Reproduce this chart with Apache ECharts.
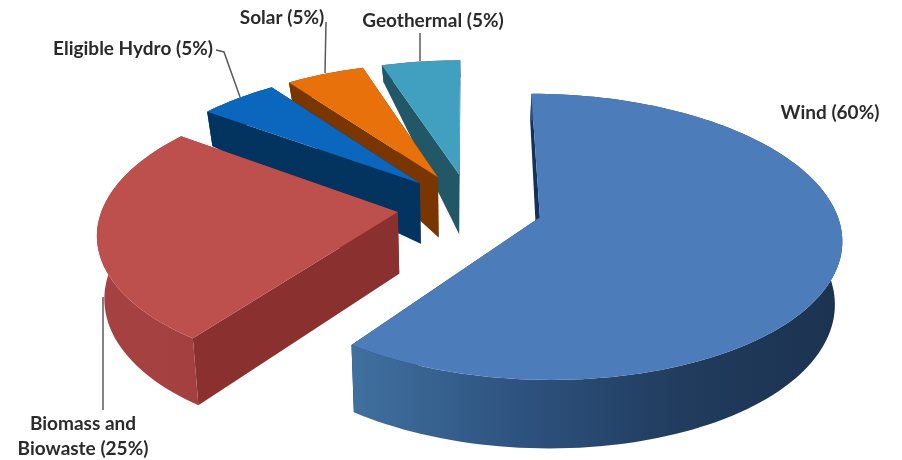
<!DOCTYPE html>
<html>
<head>
<meta charset="utf-8">
<style>html,body{margin:0;padding:0;background:#fff}#chart{width:902px;height:460px}</style>
<script src="https://cdn.jsdelivr.net/npm/echarts@6/dist/echarts.min.js"></script>
</head>
<body>
<div id="chart"></div>
<script>
// Renewable energy mix
const categories = ['Wind', 'Biomass and Biowaste', 'Eligible Hydro', 'Solar', 'Geothermal'];
const shares = [60, 25, 5, 5, 5];

// Slice colours: top face, cut wall, and the outer rim's left-to-right shading
const topColors = ['#4c7dba', '#bd4f4d', '#0a67bd', '#e8710b', '#41a0c0'];
const wallColors = ['#12325a', '#8a3130', '#03335f', '#7a3600', '#215766'];
const rimStops = [
  ['#40709f', '#2e5380', '#213c5e', '#1c3250'],
  ['#a54140', '#a54140', '#a54140', '#a33f3e'],
  ['#03335f', '#03335f', '#03335f', '#03335f'],
  ['#7a3600', '#7a3600', '#7a3600', '#7a3600'],
  ['#215766', '#215766', '#215766', '#215766']
];

// Leader-line labels, in the chart's pixel space
const labelLayout = [
  { lines: ['Wind (60%)'], x: 830, y: 113, leader: null },
  { lines: ['Biomass and', 'Biowaste (25%)'], x: 83, y: 424, leader: [[103, 297], [103, 410]] },
  { lines: ['Eligible Hydro (5%)'], x: 133, y: 49, leader: [[216, 50], [224, 52], [240, 97]] },
  { lines: ['Solar (5%)'], x: 282, y: 18, leader: [[326, 22], [325, 73]] },
  { lines: ['Geothermal (5%)'], x: 433, y: 21, leader: [[420, 33], [420, 61]] }
];

// Perspective camera for the tilted pie
const cam = { cx: 470, cy: 206.6, rx: 295, ry: 137.5, k: 0.136, explode: 0.2465, floor: 0.98 };

function project(X, Y) {
  const s = 1 / (1 - cam.k * Y);
  return [cam.cx + cam.rx * X * s, cam.cy + cam.ry * Y * s];
}
// The slab's apparent thickness shrinks quickly towards the far side
function depthAt(Y) {
  return Y >= -0.25 ? 60 + 8 * (Y + 0.25) / 1.25 : Math.max(17, 60 - 42 * (-0.25 - Y) / 0.85);
}
function lower(X, Y) {
  const p = project(X, Y);
  return [cam.cx + (p[0] - cam.cx) * cam.floor, p[1] + depthAt(Y)];
}

const total = shares.reduce((a, b) => a + b, 0);
const starts = shares.map((_, i) => shares.slice(0, i).reduce((a, b) => a + b, 0) / total * Math.PI * 2);

function renderSlice(params, api) {
  const i = params.dataIndex;
  const a0 = starts[i];
  const a1 = a0 + api.value(0) / total * Math.PI * 2;
  const mid = (a0 + a1) / 2;
  const ox = Math.sin(mid) * cam.explode;
  const oy = -Math.cos(mid) * cam.explode;
  const rim = [];
  const n = Math.max(4, Math.ceil((a1 - a0) / 0.03));
  for (let j = 0; j <= n; j++) {
    const a = a0 + (a1 - a0) * j / n;
    rim.push([ox + Math.sin(a), oy - Math.cos(a)]);
  }
  const apex = [ox, oy];
  const topFace = [apex].concat(rim).map(w => project(w[0], w[1]));
  const rimFace = rim.map(w => project(w[0], w[1]))
    .concat(rim.slice().reverse().map(w => lower(w[0], w[1])));
  const wall = e => [project(apex[0], apex[1]), project(e[0], e[1]), lower(e[0], e[1]), lower(apex[0], apex[1])];
  const base = (categories.length - 1 - i) * 10;
  const stops = rimStops[i].map((c, k, arr) => ({ offset: k / (arr.length - 1), color: c }));
  const children = [
    { type: 'polygon', z2: base + 1, shape: { points: wall(rim[0]) }, style: { fill: wallColors[i] } },
    { type: 'polygon', z2: base + 1, shape: { points: wall(rim[rim.length - 1]) }, style: { fill: wallColors[i] } },
    { type: 'polygon', z2: base + 2, shape: { points: rimFace },
      style: { fill: new echarts.graphic.LinearGradient(0, 0, 1, 0, stops) } },
    { type: 'polygon', z2: base + 3, shape: { points: topFace }, style: { fill: topColors[i] } }
  ];
  const lab = labelLayout[i];
  if (lab.leader) {
    children.push({ type: 'polyline', z2: 100, shape: { points: lab.leader },
      style: { fill: null, stroke: '#5a5a5a', lineWidth: 1.5 } });
  }
  lab.lines.forEach((t, k) => {
    children.push({ type: 'text', z2: 101, style: {
      text: t, x: lab.x, y: lab.y + k * 25, align: 'center', verticalAlign: 'middle',
      fill: '#2b2b2b', font: '700 19px Lato'
    } });
  });
  return { type: 'group', children };
}

const chart = echarts.init(document.getElementById('chart'));
chart.setOption({
  animation: false,
  backgroundColor: '#ffffff',
  series: [{
    type: 'custom',
    coordinateSystem: 'none',
    renderItem: renderSlice,
    data: shares.map((v, i) => ({ name: categories[i], value: [v] }))
  }]
});
</script>
</body>
</html>
